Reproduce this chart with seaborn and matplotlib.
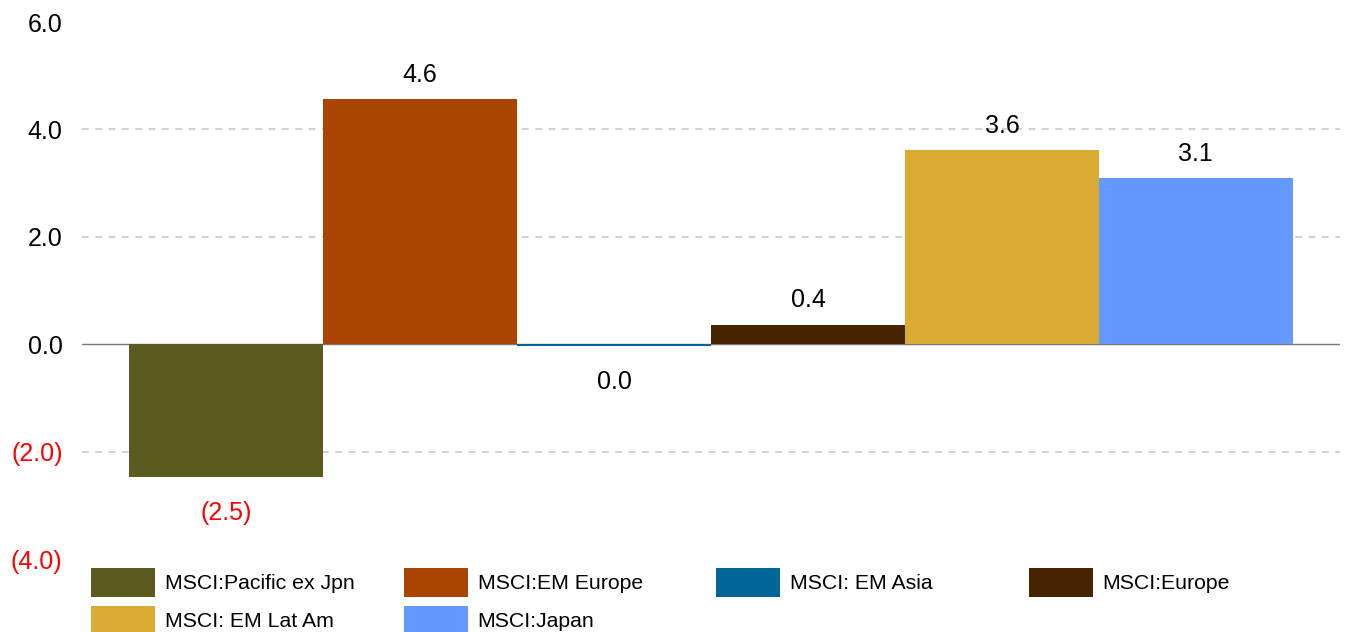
import matplotlib
matplotlib.use("Agg")
import matplotlib.pyplot as plt
import seaborn as sns
import pandas as pd

series = ["MSCI:Pacific ex Jpn", "MSCI:EM Europe", "MSCI: EM Asia",
          "MSCI:Europe", "MSCI: EM Lat Am", "MSCI:Japan"]
values = [-2.48, 4.56, -0.04, 0.36, 3.61, 3.09]
colors = ["#5B5B20", "#AA4400", "#006699", "#472400", "#DBAA32", "#6699FF"]
yticks = [-4, -2, 0, 2, 4, 6]

sns.set_theme(style="white")
plt.rcParams['font.family'] = ['Liberation Sans', 'DejaVu Sans']
plt.rcParams['text.color'] = 'black'

df = pd.DataFrame({"grp": ["all"] * len(series), "series": series, "value": values})

fig = plt.figure(figsize=(13.45, 6.32), dpi=100)
ax = fig.add_axes([82 / 1345, 1 - 559 / 632, (1340 - 82) / 1345, (559 - 22) / 632])

sns.barplot(data=df, x="grp", y="value", hue="series", hue_order=series,
            palette=colors, width=0.925, gap=0, dodge=True, legend=False,
            saturation=1, ax=ax, errorbar=None, linewidth=0)

ax.set_ylim(-4, 6)
ax.set_xlim(-0.5, 0.5)
for s in ax.spines.values():
    s.set_visible(False)
ax.set_xticks([])
ax.set_xlabel("")
ax.set_ylabel("")

for g in [-2, 2, 4]:
    ax.axhline(g, color="#C8C8C8", lw=1.2, ls=(0, (4, 4)), zorder=0)
ax.axhline(0, color="#777777", lw=1.0, zorder=0.5)


def fmt(v):
    r = round(v, 1)
    if r < 0:
        return f"({abs(r):.1f})"
    return f"{abs(r):.1f}"


ax.set_yticks(yticks)
ax.set_yticklabels([fmt(t) for t in yticks])
ax.tick_params(axis="y", length=0, labelsize=18, pad=14)
for t, lab in zip(yticks, ax.get_yticklabels()):
    lab.set_color("#FF0000" if t < 0 else "#000000")

for cont, v in zip(ax.containers, values):
    neg = round(v, 1) < 0
    ax.bar_label(cont, labels=[fmt(v)], padding=(17 if v < 0 else 9),
                 fontsize=18, color=("#FF0000" if neg else "#000000"))

handles = [plt.Rectangle((0, 0), 1, 1, facecolor=c, edgecolor="none") for c in colors]
col_x = [91, 404, 716, 1029]
for i, x in enumerate(col_x):
    idx = [j for j in (i, i + 4) if j < len(series)]
    leg = fig.legend([handles[j] for j in idx], [series[j] for j in idx],
                     loc="upper left", bbox_to_anchor=(x / 1345, 1 - 568 / 632),
                     frameon=False, fontsize=15.3, handlelength=3.0, handleheight=1.72,
                     handletextpad=0.47, labelspacing=0.42, borderpad=0, borderaxespad=0,
                     labelcolor="black")

fig.savefig("out.png", dpi=100)
